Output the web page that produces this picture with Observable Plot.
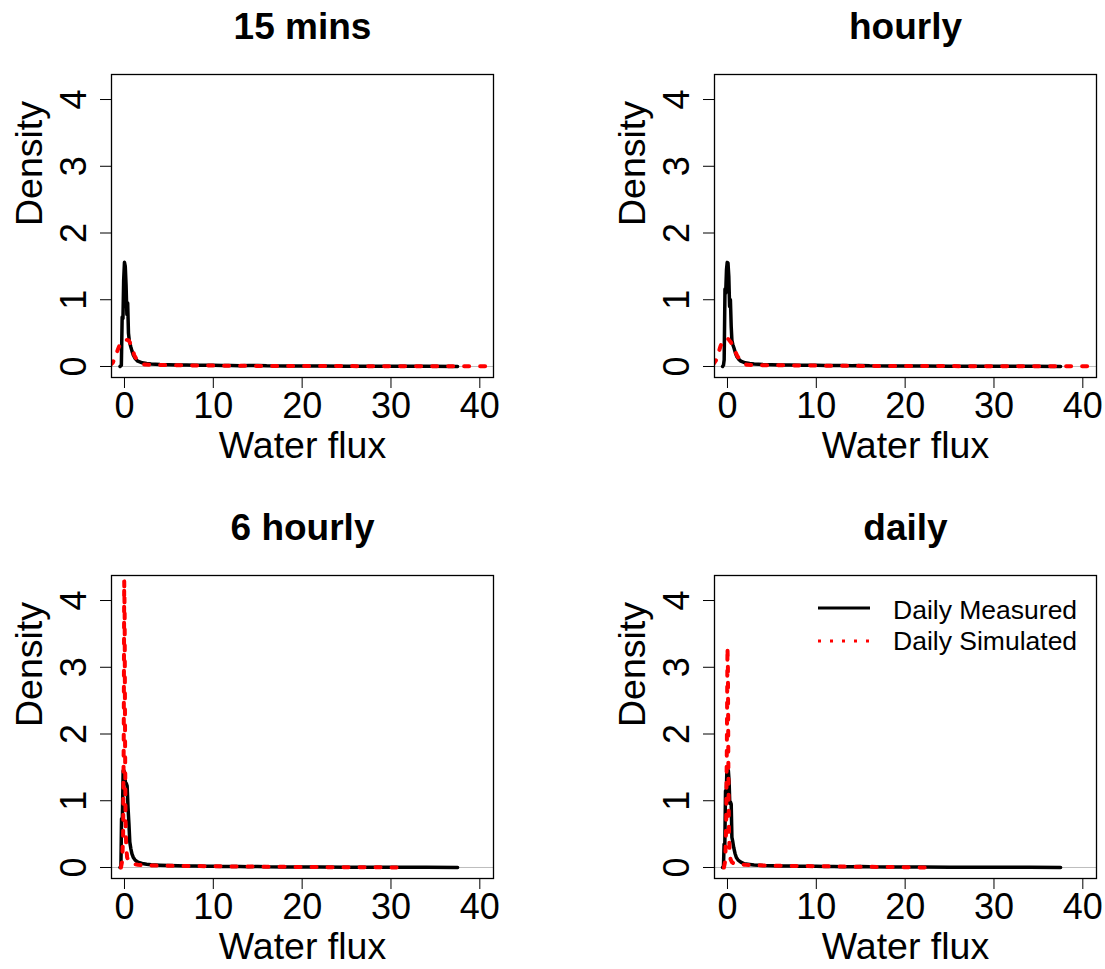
<!DOCTYPE html>
<html>
<head>
<meta charset="utf-8">
<script src="https://cdn.jsdelivr.net/npm/d3@7"></script>
<script src="https://cdn.jsdelivr.net/npm/@observablehq/plot@0.6"></script>
<style>
  body { margin: 0; background: white; }
  #wrap { position: relative; width: 1105px; height: 969px; background: white; overflow: hidden; font-family: "Liberation Sans", Arial, sans-serif; }
  .panel { position: absolute; }
  #legend { position: absolute; left: 0; top: 0; width: 1105px; height: 969px; pointer-events: none; }
</style>
</head>
<body>
<div id="wrap"></div>
<script>
// ---- Data ----
const panelTitles = ["15 mins", "hourly", "6 hourly", "daily"];
const xTicks = [0, 10, 20, 30, 40];
const yTicks = [0, 1, 2, 3, 4];
const legendLabels = ["Daily Measured", "Daily Simulated"];

// 15 mins
const meas15x = [-0.5, -0.35, -0.26, -0.17, -0.09, 0.0, 0.09, 0.18, 0.27, 0.36, 0.45, 0.55, 0.7, 0.85, 1.0, 1.2, 1.5, 2.0, 2.5, 3, 4, 5, 6, 7, 8, 9, 10, 11, 12, 13, 14, 15, 16, 18, 20, 22, 25, 28, 31, 34, 37.5];
const meas15y = [0.0, 0.02, 0.74, 0.72, 1.3, 1.56, 1.5, 1.22, 0.78, 0.95, 0.5, 0.38, 0.3, 0.23, 0.17, 0.12, 0.08, 0.055, 0.045, 0.038, 0.03, 0.027, 0.024, 0.022, 0.02, 0.018, 0.017, 0.016, 0.014, 0.012, 0.013, 0.015, 0.01, 0.008, 0.007, 0.006, 0.005, 0.004, 0.004, 0.003, 0.001];
const sim15x = [-1.6, -1.3, -1.0, -0.7, -0.4, -0.1, 0.2, 0.5, 0.8, 1.1, 1.4, 1.8, 2.2, 3, 4, 5, 6, 8, 10, 12, 15, 18, 21, 24, 27, 30, 33, 36, 39, 42];
const sim15y = [0.02, 0.06, 0.16, 0.27, 0.36, 0.39, 0.4, 0.39, 0.3, 0.17, 0.1, 0.05, 0.03, 0.025, 0.022, 0.02, 0.018, 0.015, 0.013, 0.011, 0.009, 0.008, 0.007, 0.006, 0.005, 0.005, 0.004, 0.004, 0.003, 0.003];

// hourly
const measHx = [-0.55, -0.45, -0.37, -0.28, -0.2, -0.11, -0.03, 0.06, 0.15, 0.24, 0.33, 0.42, 0.5, 0.6, 0.75, 0.9, 1.05, 1.25, 1.5, 2.0, 2.5, 3, 4, 5, 6, 7, 8, 9, 10, 11, 12, 13, 14, 15, 16, 18, 20, 22, 25, 28, 31, 34, 37.5];
const measHy = [0.0, 0.02, 0.1, 1.16, 1.1, 1.45, 1.56, 1.55, 1.35, 0.9, 1.0, 0.6, 0.39, 0.33, 0.27, 0.2, 0.15, 0.11, 0.08, 0.055, 0.045, 0.038, 0.03, 0.027, 0.024, 0.022, 0.02, 0.019, 0.017, 0.016, 0.014, 0.013, 0.012, 0.016, 0.01, 0.008, 0.007, 0.006, 0.005, 0.004, 0.004, 0.003, 0.001];
const simHx = [-1.6, -1.3, -1.1, -0.8, -0.5, -0.2, 0.1, 0.4, 0.7, 1.1, 1.5, 1.9, 2.2, 3, 4, 5, 6, 8, 10, 12, 15, 18, 21, 24, 27, 30, 33, 36, 39, 42];
const simHy = [0.03, 0.09, 0.16, 0.3, 0.39, 0.42, 0.41, 0.36, 0.27, 0.16, 0.08, 0.04, 0.025, 0.022, 0.02, 0.019, 0.018, 0.015, 0.013, 0.011, 0.009, 0.008, 0.007, 0.006, 0.005, 0.005, 0.004, 0.004, 0.003, 0.003];

// 6 hourly
const meas6x = [-0.5, -0.4, -0.33, -0.24, -0.15, -0.06, 0.03, 0.12, 0.21, 0.3, 0.4, 0.5, 0.6, 0.72, 0.85, 1.0, 1.2, 1.4, 1.7, 2.0, 2.5, 3, 4, 5, 6, 7, 8, 9, 10, 11, 12, 13, 14, 15, 16, 18, 20, 22, 25, 28, 31, 34, 37.5];
const meas6y = [0.0, 0.02, 0.73, 0.7, 1.45, 1.45, 1.4, 1.26, 1.26, 1.22, 0.9, 0.66, 0.38, 0.28, 0.2, 0.15, 0.11, 0.09, 0.07, 0.06, 0.05, 0.042, 0.035, 0.03, 0.027, 0.024, 0.021, 0.019, 0.017, 0.016, 0.014, 0.013, 0.012, 0.015, 0.01, 0.008, 0.007, 0.006, 0.005, 0.004, 0.004, 0.003, 0.001];
const sim6x = [-0.4, -0.25, -0.15, -0.08, -0.03, 0.02, 0.07, 0.12, 0.2, 0.3, 0.45, 0.6, 0.8, 1.1, 1.5, 2, 3, 4, 5, 7, 9, 11, 13, 15, 17, 19, 21, 23, 25, 27, 29, 31.5];
const sim6y = [0.0, 0.1, 0.5, 2.0, 4.3, 3.8, 1.8, 0.7, 0.3, 0.15, 0.1, 0.08, 0.06, 0.05, 0.04, 0.035, 0.03, 0.027, 0.025, 0.022, 0.02, 0.018, 0.015, 0.013, 0.011, 0.009, 0.007, 0.005, 0.004, 0.003, 0.002, 0.0];

// daily
const measDx = [-0.55, -0.45, -0.38, -0.3, -0.22, -0.14, -0.06, 0.02, 0.1, 0.18, 0.26, 0.34, 0.42, 0.5, 0.58, 0.7, 0.85, 1.0, 1.2, 1.5, 1.9, 2.5, 3, 4, 5, 6, 7, 8, 9, 10, 11, 12, 13, 14, 15, 16, 18, 20, 22, 25, 28, 31, 34, 37.5];
const measDy = [0.0, 0.02, 0.35, 0.32, 1.15, 1.1, 1.48, 1.48, 1.45, 1.3, 0.96, 0.98, 0.95, 0.45, 0.4, 0.3, 0.21, 0.15, 0.11, 0.08, 0.055, 0.045, 0.038, 0.03, 0.027, 0.024, 0.022, 0.02, 0.018, 0.017, 0.015, 0.014, 0.012, 0.012, 0.015, 0.01, 0.008, 0.007, 0.006, 0.005, 0.004, 0.004, 0.003, 0.001];
const simDx = [-0.4, -0.25, -0.15, -0.07, 0.0, 0.05, 0.1, 0.16, 0.24, 0.35, 0.5, 0.7, 1.0, 1.4, 2, 3, 4, 5, 6, 8, 10, 12, 14, 16, 18, 20, 22.4];
const simDy = [0.0, 0.1, 0.6, 1.8, 3.3, 3.0, 1.5, 0.6, 0.25, 0.12, 0.08, 0.06, 0.05, 0.045, 0.04, 0.035, 0.03, 0.028, 0.025, 0.022, 0.019, 0.016, 0.013, 0.01, 0.007, 0.004, 0.0];

// ---- Layout ----
const xDomain = [-1.46, 41.54];
const yDomain = [-0.165, 4.375];
const FONT = "'Liberation Sans', Arial, sans-serif";

const zip = (xs, ys) => xs.map((x, i) => ({x, y: ys[i]}));

const panels = [
  {title: panelTitles[0], meas: zip(meas15x, meas15y), sim: zip(sim15x, sim15y), left: 0, top: 0, width: 552, height: 484, mr: 59, mb: 107},
  {title: panelTitles[1], meas: zip(measHx, measHy), sim: zip(simHx, simHy), left: 603, top: 0, width: 502, height: 484, mr: 9, mb: 107},
  {title: panelTitles[2], meas: zip(meas6x, meas6y), sim: zip(sim6x, sim6y), left: 0, top: 501, width: 552, height: 468, mr: 59, mb: 91},
  {title: panelTitles[3], meas: zip(measDx, measDy), sim: zip(simDx, simDy), left: 603, top: 501, width: 502, height: 468, mr: 9, mb: 91}
];

const wrap = document.getElementById("wrap");
for (const p of panels) {
  const chart = Plot.plot({
    width: p.width,
    height: p.height,
    marginLeft: 111,
    marginRight: p.mr,
    marginTop: 74,
    marginBottom: p.mb,
    x: {domain: xDomain},
    y: {domain: yDomain},
    style: {fontFamily: FONT, fontSize: "35px", color: "black", background: "white", overflow: "visible"},
    marks: [
      Plot.ruleY([0], {stroke: "#bebebe", strokeWidth: 1}),
      Plot.line(p.meas, {x: "x", y: "y", stroke: "black", strokeWidth: 3.5, clip: true}),
      Plot.line(p.sim, {x: "x", y: "y", stroke: "red", strokeWidth: 4, strokeDasharray: "5,11", clip: true}),
      Plot.frame({stroke: "black", strokeWidth: 1.3}),
      Plot.axisX(xTicks, {anchor: "bottom", tickSize: 11, tickPadding: 4, fontSize: 36, tickFormat: d => String(d), label: null}),
      Plot.axisY(yTicks, {anchor: "left", tickSize: 11, tickRotate: -90, tickPadding: 15, fontSize: 36, tickFormat: d => String(d), label: null}),
      Plot.text([p.title], {text: d => d, frameAnchor: "top", dy: -36, lineAnchor: "bottom", fontWeight: "bold", fontSize: 37}),
      Plot.text(["Water flux"], {text: d => d, frameAnchor: "bottom", dy: 80, lineAnchor: "bottom", fontSize: 37.5}),
      Plot.text(["Density"], {text: d => d, frameAnchor: "left", dx: -70, rotate: -90, lineAnchor: "bottom", fontSize: 37.5})
    ]
  });
  const holder = document.createElement("div");
  holder.className = "panel";
  holder.style.left = p.left + "px";
  holder.style.top = p.top + "px";
  holder.appendChild(chart);
  wrap.appendChild(holder);
}

// ---- Legend (inside the "daily" panel) ----
const ns = "http://www.w3.org/2000/svg";
const leg = document.createElementNS(ns, "svg");
leg.setAttribute("id", "legend");
leg.setAttribute("width", 1105);
leg.setAttribute("height", 969);
const legendItems = [
  {label: legendLabels[0], stroke: "black", width: 3, dash: null, y: 608, ty: 619},
  {label: legendLabels[1], stroke: "red", width: 3, dash: "3,9", y: 641, ty: 650}
];
for (const it of legendItems) {
  const ln = document.createElementNS(ns, "line");
  ln.setAttribute("x1", 818); ln.setAttribute("x2", 870);
  ln.setAttribute("y1", it.y); ln.setAttribute("y2", it.y);
  ln.setAttribute("stroke", it.stroke);
  ln.setAttribute("stroke-width", it.width);
  if (it.dash) ln.setAttribute("stroke-dasharray", it.dash);
  leg.appendChild(ln);
  const tx = document.createElementNS(ns, "text");
  tx.setAttribute("x", 893); tx.setAttribute("y", it.ty);
  tx.setAttribute("font-family", FONT);
  tx.setAttribute("font-size", 26.5);
  tx.setAttribute("fill", "black");
  tx.textContent = it.label;
  leg.appendChild(tx);
}
wrap.appendChild(leg);
</script>
</body>
</html>
